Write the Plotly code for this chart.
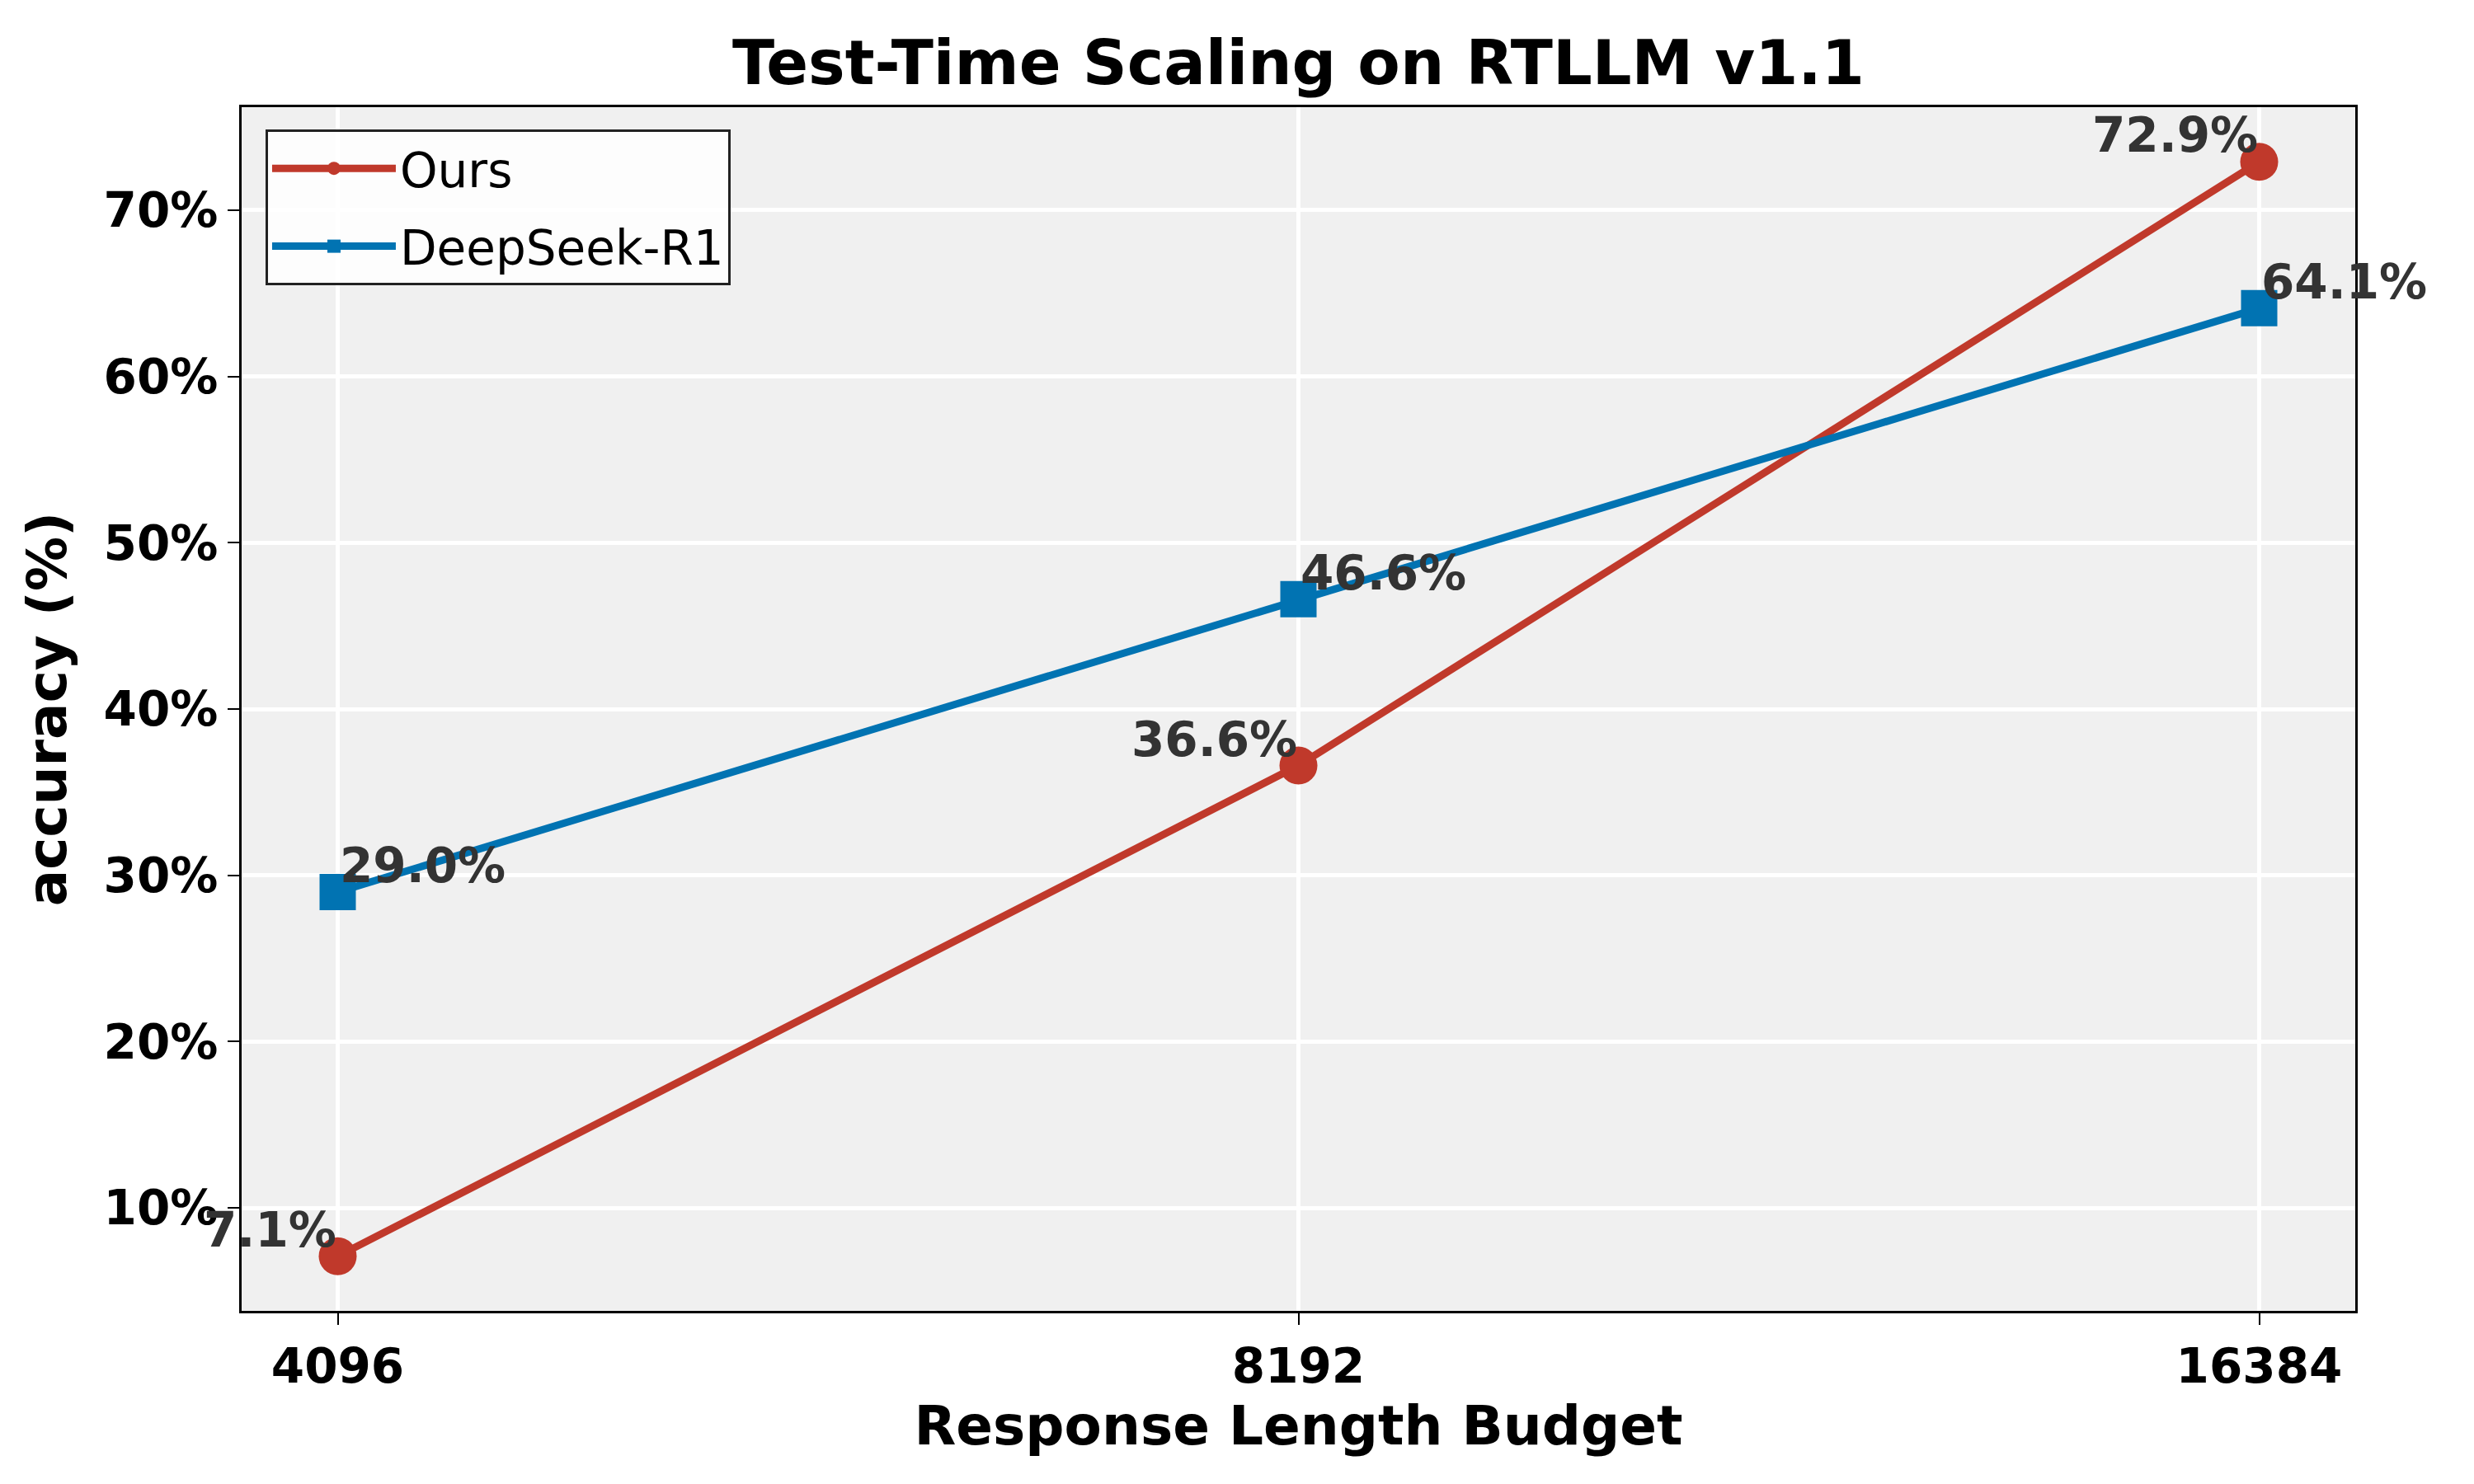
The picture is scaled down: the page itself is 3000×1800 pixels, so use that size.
import plotly.graph_objects as go

budgets = ["4096", "8192", "16384"]
ours = [7.1, 36.6, 72.9]
deepseek = [29.0, 46.6, 64.1]
ytick_vals = [10, 20, 30, 40, 50, 60, 70]
ytick_text = ["10%", "20%", "30%", "40%", "50%", "60%", "70%"]

RED = "#c0392b"
BLUE = "#0173b2"
FONT = "DejaVu Sans"

fig = go.Figure()
fig.add_trace(go.Scatter(
    x=budgets, y=ours, name="Ours", mode="lines+markers", legendgroup="a",
    line=dict(color=RED, width=9),
    marker=dict(symbol="circle", size=46, color=RED),
))
fig.add_trace(go.Scatter(
    x=budgets, y=deepseek, name="DeepSeek-R1", mode="lines+markers", legendgroup="b",
    line=dict(color=BLUE, width=9),
    marker=dict(symbol="square", size=44, color=BLUE),
))

for i, yv in enumerate(ours):
    fig.add_annotation(x=i, y=yv, text=f"{yv:.1f}%", showarrow=False,
                       xanchor="right", yanchor="bottom", yshift=-4,
                       font=dict(family=FONT, size=58, color="#333333", weight="bold"))
for i, yv in enumerate(deepseek):
    fig.add_annotation(x=i, y=yv, text=f"{yv:.1f}%", showarrow=False,
                       xanchor="left", yanchor="bottom", yshift=-4,
                       font=dict(family=FONT, size=58, color="#333333", weight="bold"))

fig.update_layout(
    width=3000, height=1800,
    margin=dict(l=285, r=152, t=122, b=218),
    paper_bgcolor="white", plot_bgcolor="#f0f0f0",
    font=dict(family=FONT, color="black"),
    title=dict(text="Test-Time Scaling on RTLLM v1.1", x=0.5, xref="paper",
               y=1 - 68 / 1800, yref="container", xanchor="center", yanchor="middle",
               font=dict(family=FONT, size=75, color="black", weight="bold")),
    legend=dict(x=0.0113, y=0.9815, xanchor="left", yanchor="top",
                bgcolor="rgba(255,255,255,0.85)", bordercolor="#222222", borderwidth=3,
                font=dict(family=FONT, size=58, color="black"),
                itemwidth=150, tracegroupgap=16, traceorder="grouped"),
    showlegend=True,
)
fig.update_xaxes(
    type="category", range=[-0.1, 2.1],
    showgrid=True, gridcolor="white", gridwidth=5,
    showline=True, linecolor="black", linewidth=3, mirror=True,
    ticks="outside", ticklen=14, tickwidth=2, tickcolor="black",
    tickfont=dict(family=FONT, size=58, color="black", weight="bold"),
    title=dict(text="Response Length Budget", standoff=12,
               font=dict(family=FONT, size=66, color="black", weight="bold")),
    zeroline=False,
)
fig.update_yaxes(
    range=[3.81, 76.19], tickmode="array", tickvals=ytick_vals, ticktext=ytick_text,
    showgrid=True, gridcolor="white", gridwidth=5,
    showline=True, linecolor="black", linewidth=3, mirror=True,
    ticks="outside", ticklen=14, tickwidth=2, tickcolor="black",
    tickfont=dict(family=FONT, size=58, color="black", weight="bold"),
    title=dict(text="accuracy (%)", standoff=24,
               font=dict(family=FONT, size=66, color="black", weight="bold")),
    zeroline=False,
)

fig.write_html("out.html")
